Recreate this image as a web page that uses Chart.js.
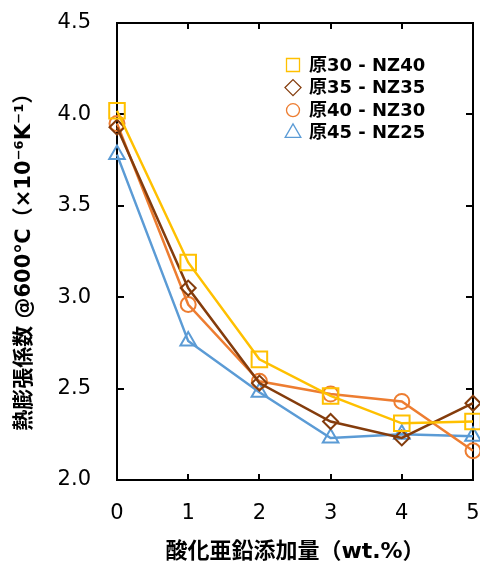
<!DOCTYPE html>
<html>
<head>
<meta charset="utf-8">
<script src="https://cdn.jsdelivr.net/npm/chart.js@4.4.0/dist/chart.umd.min.js"></script>
<style>
  html, body { margin: 0; padding: 0; background: #fff; }
</style>
</head>
<body>
<canvas id="cteChart" width="480" height="565"></canvas>
<script>
  // 酸化亜鉛添加量 (wt.%)
  const zincOxide = [0, 1, 2, 3, 4, 5];
  const seriesNames = ['原30 - NZ40', '原35 - NZ35', '原40 - NZ30', '原45 - NZ25'];
  // 熱膨張係数 @600℃ (×10^-6 K^-1)
  const cte30 = [4.02, 3.19, 2.66, 2.46, 2.31, 2.32];
  const cte35 = [3.93, 3.05, 2.53, 2.32, 2.23, 2.42];
  const cte40 = [3.95, 2.96, 2.54, 2.47, 2.43, 2.16];
  const cte45 = [3.78, 2.76, 2.48, 2.23, 2.25, 2.24];
  const yMin = 2.0, yMax = 4.5, yStep = 0.5;
  const xMin = 0, xMax = 5, xStep = 1;

  const FONT = "'DejaVu Sans', 'Noto Sans CJK JP', sans-serif";

  const styles = [
    { color: '#FFC000', pointStyle: 'rect', radius: 11 },
    { color: '#843C0C', pointStyle: 'rectRot', radius: 7.5 },
    { color: '#ED7D31', pointStyle: 'circle', radius: 7.5 },
    { color: '#5B9BD5', pointStyle: 'triangle', radius: 9 }
  ];

  function toPoints(values) {
    return zincOxide.map((x, i) => ({ x: x, y: values[i] }));
  }

  const datasets = [cte30, cte35, cte40, cte45].map((values, i) => ({
    label: seriesNames[i],
    data: toPoints(values),
    borderColor: styles[i].color,
    backgroundColor: 'transparent',
    borderWidth: 2.5,
    pointStyle: styles[i].pointStyle,
    pointRadius: styles[i].radius,
    pointBorderWidth: 2,
    pointBorderColor: styles[i].color,
    pointBackgroundColor: 'transparent',
    tension: 0,
    clip: false
  }));

  // 枠線と内向きの目盛り
  const framePlugin = {
    id: 'frame',
    beforeDatasetsDraw(chart) {
      const { ctx, chartArea: a, scales } = chart;
      ctx.save();
      ctx.strokeStyle = '#000';
      ctx.lineWidth = 2;
      ctx.strokeRect(a.left, a.top, a.right - a.left, a.bottom - a.top);
      ctx.beginPath();
      for (let v = xMin + xStep; v < xMax; v += xStep) {
        const px = Math.round(scales.x.getPixelForValue(v));
        ctx.moveTo(px, a.bottom); ctx.lineTo(px, a.bottom - 6);
        ctx.moveTo(px, a.top); ctx.lineTo(px, a.top + 6);
      }
      for (let v = yMin + yStep; v < yMax - 1e-9; v += yStep) {
        const py = Math.round(scales.y.getPixelForValue(v));
        ctx.moveTo(a.left, py); ctx.lineTo(a.left + 7, py);
        ctx.moveTo(a.right, py); ctx.lineTo(a.right - 7, py);
      }
      ctx.stroke();
      ctx.restore();
    }
  };

  function drawMarker(ctx, style, x, y, r) {
    ctx.beginPath();
    if (style === 'rect') {
      ctx.rect(x - r, y - r, 2 * r, 2 * r);
    } else if (style === 'rectRot') {
      ctx.moveTo(x, y - r); ctx.lineTo(x + r, y); ctx.lineTo(x, y + r); ctx.lineTo(x - r, y);
      ctx.closePath();
    } else if (style === 'circle') {
      ctx.arc(x, y, r, 0, Math.PI * 2);
    } else {
      ctx.moveTo(x, y - r); ctx.lineTo(x + r * 0.87, y + r * 0.5); ctx.lineTo(x - r * 0.87, y + r * 0.5);
      ctx.closePath();
    }
    ctx.stroke();
  }

  // 凡例（グラフ内右上）
  const legendPlugin = {
    id: 'insideLegend',
    afterDraw(chart) {
      const { ctx } = chart;
      const sizes = [6.5, 8, 6.5, 9];
      ctx.save();
      ctx.font = 'bold 18px ' + FONT;
      ctx.textBaseline = 'middle';
      ctx.textAlign = 'left';
      chart.data.datasets.forEach((ds, i) => {
        const y = 65 + i * 22.6;
        ctx.strokeStyle = ds.borderColor;
        ctx.lineWidth = 1.3;
        drawMarker(ctx, ds.pointStyle, 293, y, sizes[i]);
        ctx.fillStyle = '#000';
        ctx.fillText(ds.label, 309, y + 1);
      });
      ctx.restore();
    }
  };

  new Chart(document.getElementById('cteChart'), {
    type: 'line',
    data: { datasets: datasets },
    plugins: [framePlugin, legendPlugin],
    options: {
      responsive: false,
      devicePixelRatio: 1,
      animation: false,
      layout: { autoPadding: false, padding: { left: 0, right: 7, top: 23, bottom: 0 } },
      plugins: {
        legend: { display: false },
        tooltip: { enabled: false }
      },
      scales: {
        x: {
          type: 'linear',
          min: xMin,
          max: xMax,
          grid: { display: false, drawTicks: false },
          border: { display: false },
          ticks: {
            stepSize: xStep,
            padding: 21,
            color: '#000',
            font: { family: FONT, size: 21 }
          },
          title: {
            display: true,
            text: '酸化亜鉛添加量（wt.%）',
            color: '#000',
            font: { family: FONT, size: 22, weight: 'bold', lineHeight: 1.2 },
            padding: { top: 0, bottom: 0 }
          },
          afterFit(scale) {
            scale.height = 85;
            scale.paddingLeft = 0;
            scale.paddingRight = 0;
          }
        },
        y: {
          min: yMin,
          max: yMax,
          grid: { display: false, drawTicks: false },
          border: { display: false },
          ticks: {
            stepSize: yStep,
            padding: 26,
            color: '#000',
            font: { family: FONT, size: 21 },
            callback: v => v.toFixed(1)
          },
          title: {
            display: true,
            text: '熱膨張係数 @600℃（×10⁻⁶K⁻¹）\u3000',
            color: '#000',
            font: { family: FONT, size: 21, weight: 'bold', lineHeight: 1.2 },
            padding: { top: 12, bottom: 0 }
          },
          afterFit(scale) {
            scale.width = 117;
            scale.paddingTop = 0;
            scale.paddingBottom = 0;
          }
        }
      }
    }
  });
</script>
</body>
</html>
